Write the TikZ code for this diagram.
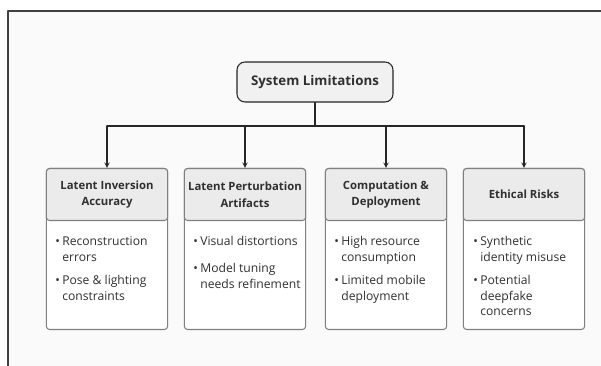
\documentclass[tikz,border=0pt]{standalone}
\usepackage{fontspec}
\setmainfont{Open Sans}
\usetikzlibrary{positioning}
\definecolor{headgray}{HTML}{EBEBEB}
\definecolor{rootgray}{HTML}{F1F1F1}
\definecolor{edgegray}{HTML}{808080}
\definecolor{linedark}{HTML}{262626}
\definecolor{textdark}{HTML}{303030}
% one bullet, lines of #1 hang under the first
\newcommand{\bitem}[1]{\makebox[5.3pt][l]{\textbullet}\begin{tabular}[t]{@{}l@{}}#1\end{tabular}}
\begin{document}
\begin{tikzpicture}[x=0.75pt, y=-0.75pt, line join=round, line cap=round, >=stealth,
    root/.style={draw=linedark, fill=rootgray, rounded corners=6pt, line width=0.8pt,
        minimum width=117pt, minimum height=30pt, text=textdark, font=\fontsize{10}{12}\selectfont\bfseries},
    card/.style={draw=edgegray, fill=white, rounded corners=2.5pt, line width=0.8pt,
        minimum width=91pt, minimum height=120.75pt, anchor=north},
    head/.style={draw=edgegray, fill=headgray, rounded corners=2.5pt, line width=0.8pt,
        minimum width=91pt, minimum height=39pt, anchor=north, align=center, inner sep=1pt,
        text=textdark, font=\fontsize{8.5}{12.5}\selectfont\bfseries},
    body/.style={anchor=north west, align=left, inner sep=0pt, text=textdark,
        font=\fontsize{9.1}{11.8}\selectfont}]
    \useasboundingbox (0,0) rectangle (601,366);
    \fill[black!2] (8,11) rectangle (601,366);
    \draw[line width=1.5pt, draw=black!75] (601,11) -- (8,11) -- (8,366);
    % top of the tree
    \node[root] (sys) at (315,82) {System Limitations};
    \coordinate (bus) at (315,126);
    % the four cards
    \node[card] (inv) at (107,168) {};
    \node[card] (pert) at (245,168) {};
    \node[card] (comp) at (386,168) {};
    \node[card] (eth) at (524,168) {};
    \node[head] (invh) at (inv.north) {Latent Inversion\\Accuracy};
    \node[head] (perth) at (pert.north) {Latent Perturbation\\Artifacts};
    \node[head] (comph) at (comp.north) {Computation \&\\Deployment};
    \node[head] (ethh) at (eth.north) {Ethical Risks};
    \node[body] (invb) at (55,234) {\bitem{Reconstruction\\errors}\\[4.7pt]\bitem{Pose \& lighting\\constraints}};
    \node[body] (pertb) at (193,234) {\bitem{Visual distortions}\\[8.5pt]\bitem{Model tuning\\needs refinement}};
    \node[body] (compb) at (334,234) {\bitem{High resource\\consumption}\\[4.7pt]\bitem{Limited mobile\\deployment}};
    \node[body] (ethb) at (473,234) {\bitem{Synthetic\\identity misuse}\\[4.7pt]\bitem{Potential\\deepfake\\concerns}};
    % connectors
    \draw[linedark, line width=0.8pt] (sys.south) -- (bus);
    \draw[linedark, line width=0.8pt] (inv.north |- bus) -- (eth.north |- bus);
    \draw[->, linedark, line width=0.8pt] (inv.north |- bus) -- (inv.north);
    \draw[->, linedark, line width=0.8pt] (pert.north |- bus) -- (pert.north);
    \draw[->, linedark, line width=0.8pt] (comp.north |- bus) -- (comp.north);
    \draw[->, linedark, line width=0.8pt] (eth.north |- bus) -- (eth.north);
\end{tikzpicture}
\end{document}
